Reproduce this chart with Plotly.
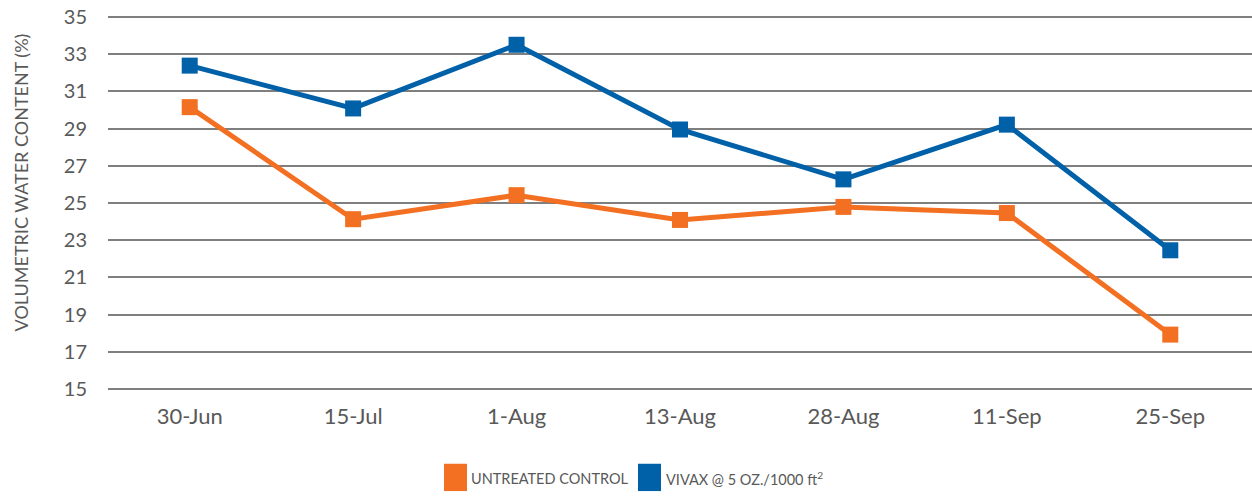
import plotly.graph_objects as go

dates = ["30-Jun", "15-Jul", "1-Aug", "13-Aug", "28-Aug", "11-Sep", "25-Sep"]
untreated = [30.15, 24.13, 25.42, 24.09, 24.79, 24.46, 17.93]
vivax = [32.38, 30.08, 33.5, 28.95, 26.27, 29.21, 22.46]
y_ticks = [15, 17, 19, 21, 23, 25, 27, 29, 31, 33, 35]

ORANGE = "#F36F21"
BLUE = "#0060A8"
FONT = "Lato"
TXT = "#595959"

fig = go.Figure()
fig.add_trace(go.Scatter(x=dates, y=untreated, mode="lines+markers", name="UNTREATED CONTROL",
                         line=dict(color=ORANGE, width=5),
                         marker=dict(symbol="square", size=16, color=ORANGE), showlegend=False))
fig.add_trace(go.Scatter(x=dates, y=vivax, mode="lines+markers", name="VIVAX @ 5 OZ./1000 ft²",
                         line=dict(color=BLUE, width=5),
                         marker=dict(symbol="square", size=16, color=BLUE), showlegend=False))

# legend drawn manually (square swatches + text)
fig.add_shape(type="rect", xref="paper", yref="paper", x0=0.2937, x1=0.3138, y0=-0.2661, y1=-0.1935,
              fillcolor=ORANGE, line=dict(width=0))
fig.add_shape(type="rect", xref="paper", yref="paper", x0=0.4633, x1=0.4834, y0=-0.2661, y1=-0.1935,
              fillcolor=BLUE, line=dict(width=0))
fig.add_annotation(text="UNTREATED CONTROL", xref="paper", yref="paper", x=0.3154, y=-0.234,
                   xanchor="left", yanchor="middle", showarrow=False, font=dict(family=FONT, size=14.5, color=TXT))
fig.add_annotation(text="VIVAX @ 5 OZ./1000 ft<sup>2</sup>", xref="paper", yref="paper", x=0.486, y=-0.234,
                   xanchor="left", yanchor="middle", showarrow=False, font=dict(family=FONT, size=14.5, color=TXT))
fig.add_annotation(text="VOLUMETRIC WATER CONTENT (%)", xref="paper", yref="paper", x=-0.0765, y=0.556,
                   textangle=-90, xanchor="center", yanchor="middle", showarrow=False,
                   font=dict(family=FONT, size=18, color=TXT))

fig.update_layout(
    width=1252, height=496,
    margin=dict(l=108, r=0, t=15, b=105),
    paper_bgcolor="white", plot_bgcolor="white",
    font=dict(family=FONT, color=TXT),
    xaxis=dict(type="category", range=[-0.5, 6.5], showgrid=False, showline=False, zeroline=False, ticks="",
               automargin=False,
               tickfont=dict(family=FONT, size=22, color=TXT), ticklabelstandoff=10),
    yaxis=dict(range=[14.9, 35.1], tickvals=y_ticks, showgrid=True, gridcolor="#7F7F7F", gridwidth=1.5,
               zeroline=False, showline=False, ticks="", ticklabeloverflow="allow", automargin=False,
               tickfont=dict(family=FONT, size=20, color=TXT), ticklabelstandoff=20),
)

# remove the browser's default 8px body margin so the figure fills the window exactly
fig.write_html("out.html", config={"displayModeBar": False},
               post_script="document.body.style.margin='0';")
